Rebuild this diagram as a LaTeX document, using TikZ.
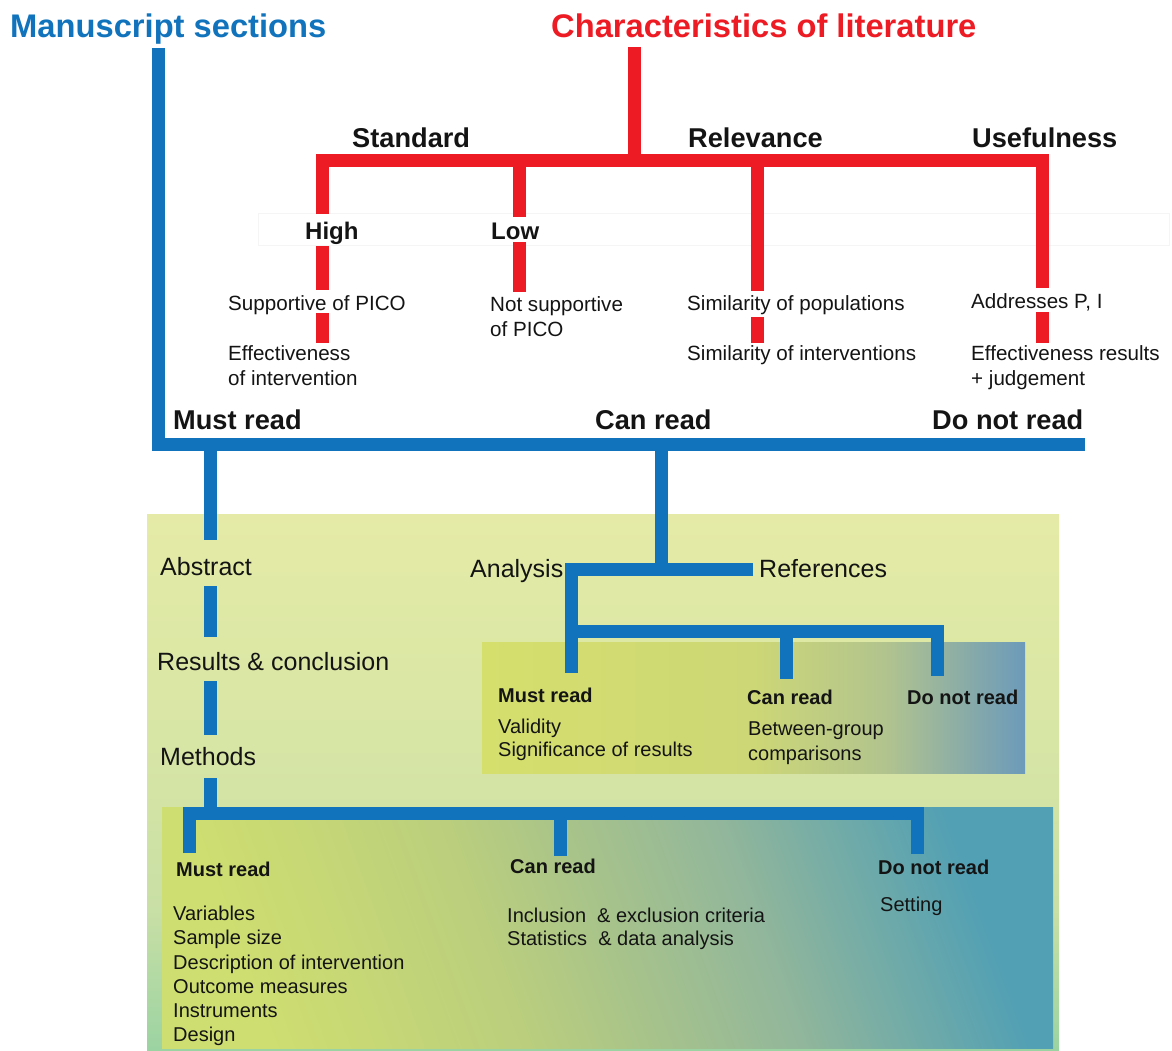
\documentclass[tikz,border=0pt]{standalone}
\usepackage{fontspec}
\setmainfont{Liberation Sans}
\definecolor{mblue}{RGB}{16,115,188}
\definecolor{mred}{RGB}{237,28,36}
\definecolor{ink}{RGB}{20,20,20}
\definecolor{bgA}{RGB}{155,211,162}
\definecolor{bgB}{RGB}{200,223,165}
\definecolor{bgC}{RGB}{214,229,165}
\definecolor{bgD}{RGB}{229,235,166}
\definecolor{pA}{RGB}{213,223,108}
\definecolor{pB}{RGB}{205,215,118}
\definecolor{pC}{RGB}{178,196,142}
\definecolor{pD}{RGB}{108,154,186}
\definecolor{qA}{RGB}{207,222,112}
\definecolor{qB}{RGB}{186,206,125}
\definecolor{qC}{RGB}{145,182,155}
\definecolor{qD}{RGB}{82,160,180}
\pgfdeclareverticalshading{bgshade}{100bp}{color(0bp)=(bgA); color(25bp)=(bgA); color(38bp)=(bgB); color(52bp)=(bgC); color(75bp)=(bgD); color(100bp)=(bgD)}
\pgfdeclarehorizontalshading{ashade}{100bp}{color(0bp)=(pA); color(25bp)=(pA); color(50bp)=(pB); color(62bp)=(pC); color(75bp)=(pD); color(100bp)=(pD)}
\pgfdeclarehorizontalshading{mshade}{100bp}{color(0bp)=(qA); color(25bp)=(qA); color(42bp)=(qB); color(60bp)=(qC); color(75bp)=(qD); color(100bp)=(qD)}
\newcommand\fsTitle{\fontsize{32.7}{36}\selectfont\bfseries}
\newcommand\fsHead{\fontsize{27.2}{30}\selectfont\bfseries}
\newcommand\fsHL{\fontsize{24}{28}\selectfont\bfseries}
\newcommand\fsRed{\fontsize{20.6}{25}\selectfont}
\newcommand\fsSec{\fontsize{25}{29}\selectfont}
\newcommand\fsSmB{\fontsize{20}{24}\selectfont\bfseries}
\newcommand\fsSm{\fontsize{20}{24}\selectfont}
\tikzset{
  bl/.style={draw=mblue, line width=13pt, line join=miter},
  rd/.style={draw=mred, line width=13pt, line join=miter},
  txt/.style={anchor=base west, inner sep=0pt, text=ink},
}
\begin{document}
\begin{tikzpicture}[x=1pt,y=-1pt]
\useasboundingbox (0,0) rectangle (1172,1051);
% backgrounds
\shade[shading=bgshade] (147,514) rectangle (1059,1051);
\shade[shading=ashade] (482,642) rectangle (1025,773);
\shade[shading=mshade, shading angle=20] (162,807) rectangle (1053,1048);
\draw[gray!8, line width=0.8pt] (258,213) rectangle (1169,245);

% titles
\node[txt, text=mblue, font=\fsTitle] (ms) at (10,38) {Manuscript sections};
\node[txt, text=mred, font=\fsTitle] (cl) at (551,38) {Characteristics of literature};

% red tree
\draw[rd] (634.5,47) -- (634.5,160.5);
\draw[rd] (322.5,214) |- (1042.5,160.5) -- (1042.5,288);
\draw[rd] (519,160.5) -- (519,217);
\draw[rd] (757.5,160.5) -- (757.5,291);
\draw[rd] (322.5,246) -- (322.5,290);
\draw[rd] (322.5,313) -- (322.5,343);
\draw[rd] (519,242) -- (519,292);
\draw[rd] (757.5,317) -- (757.5,343);
\draw[rd] (1042.5,312) -- (1042.5,343);

\node[txt, font=\fsHead] (std) at (352,148) {Standard};
\node[txt, font=\fsHead] (rel) at (688,148) {Relevance};
\node[txt, font=\fsHead] (use) at (972,148) {Usefulness};
\node[txt, font=\fsHL] (high) at (305,240) {High};
\node[txt, font=\fsHL] (low) at (491,240) {Low};
\node[txt, font=\fsRed] (sup) at (228,310) {Supportive of PICO};
\node[txt, font=\fsRed] (eff1) at (228,360) {Effectiveness};
\node[txt, font=\fsRed] (eff2) at (228,385) {of intervention};
\node[txt, font=\fsRed] (nsup1) at (490,311) {Not supportive};
\node[txt, font=\fsRed] (nsup2) at (490,336) {of PICO};
\node[txt, font=\fsRed] (simp) at (687,310) {Similarity of populations};
\node[txt, font=\fsRed] (simi) at (687,360) {Similarity of interventions};
\node[txt, font=\fsRed] (addr) at (971,308) {Addresses P, I};
\node[txt, font=\fsRed] (effr1) at (971,360) {Effectiveness results};
\node[txt, font=\fsRed] (effr2) at (971,385) {+ judgement};

% blue tree
\draw[bl] (158.5,48) |- (1085,444.5);
\node[txt, font=\fsHead] (must) at (173,429) {Must read};
\node[txt, font=\fsHead] (can) at (595,429) {Can read};
\node[txt, font=\fsHead] (dnr) at (932,429) {Do not read};

\draw[bl] (210.5,450) -- (210.5,540);
\draw[bl] (210.5,586) -- (210.5,637);
\draw[bl] (210.5,681) -- (210.5,735);
\draw[bl] (210.5,778) -- (210.5,813);
\node[txt, font=\fsSec] (abs) at (160,575) {Abstract};
\node[txt, font=\fsSec] (res) at (157,670) {Results \& conclusion};
\node[txt, font=\fsSec] (met) at (160,765) {Methods};

\draw[bl] (661,450) -- (661,569);
\draw[bl] (753,569) -| (571,673);
\draw[bl] (571,631.5) -| (937.5,676);
\draw[bl] (786,631.5) -- (786,679);
\node[txt, font=\fsSec] (ana) at (470,577) {Analysis};
\node[txt, font=\fsSec] (ref) at (759,577) {References};

\node[txt, font=\fsSmB] (amust) at (498,702) {Must read};
\node[txt, font=\fsSm] (aval) at (498,733) {Validity};
\node[txt, font=\fsSm] (asig) at (498,756) {Significance of results};
\node[txt, font=\fsSmB] (acan) at (747,704) {Can read};
\node[txt, font=\fsSm] (abg1) at (748,735) {Between-group};
\node[txt, font=\fsSm] (abg2) at (748,760) {comparisons};
\node[txt, font=\fsSmB] (adnr) at (907,704) {Do not read};

\draw[bl] (189.5,853) |- (917.5,813.5) -- (917.5,854);
\draw[bl] (560,813.5) -- (560,856);
\node[txt, font=\fsSmB] (mmust) at (176,876) {Must read};
\node[txt, font=\fsSm] (m1) at (173,920) {Variables};
\node[txt, font=\fsSm] (m2) at (173,944) {Sample size};
\node[txt, font=\fsSm] (m3) at (173,969) {Description of intervention};
\node[txt, font=\fsSm] (m4) at (173,993) {Outcome measures};
\node[txt, font=\fsSm] (m5) at (173,1017) {Instruments};
\node[txt, font=\fsSm] (m6) at (173,1041) {Design};
\node[txt, font=\fsSmB] (mcan) at (510,873) {Can read};
\node[txt, font=\fsSm] (c1) at (507,922) {Inclusion\ \ \& exclusion criteria};
\node[txt, font=\fsSm] (c2) at (507,945) {Statistics\ \ \& data analysis};
\node[txt, font=\fsSmB] (mdnr) at (878,874) {Do not read};
\node[txt, font=\fsSm] (d1) at (880,911) {Setting};
\end{tikzpicture}
\end{document}
